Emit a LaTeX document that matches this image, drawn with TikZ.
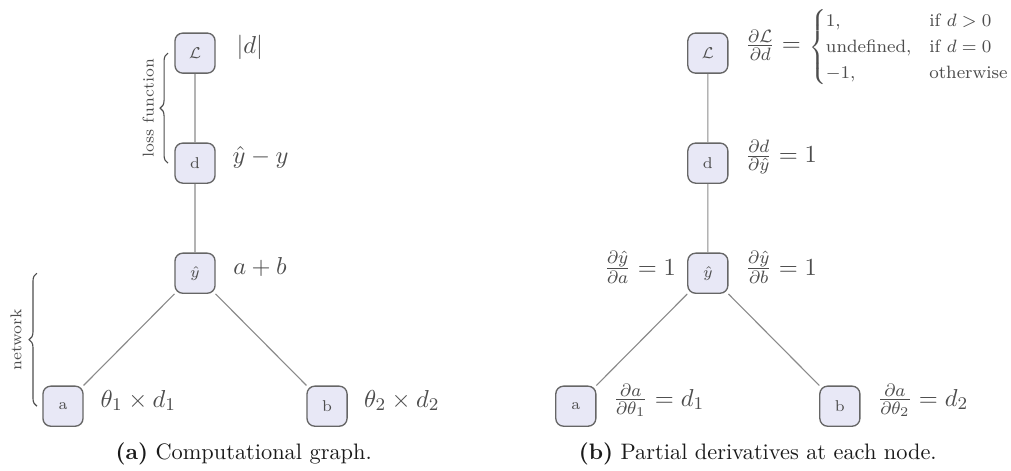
\documentclass[tikz,border=0pt]{standalone}
\usepackage{amsmath,amssymb}
\usepackage{tikz}
\usetikzlibrary{positioning,decorations.pathreplacing}
\definecolor{nodefill}{HTML}{E8E8F6}
\definecolor{nodeline}{HTML}{666666}
\definecolor{edgegray}{HTML}{8A8A8A}
\definecolor{inkgray}{HTML}{4D4D4D}
\definecolor{capink}{HTML}{1A1A1A}
\tikzset{
  var/.style={draw=nodeline, fill=nodefill, rounded corners=3.5pt,
    minimum size=0.63cm, inner sep=0pt, line width=0.6pt,
    text=inkgray, font=\fontsize{7}{8}\selectfont},
  link/.style={line width=0.5pt, color=edgegray},
  expr/.style={inner sep=0pt, text=inkgray,
    font=\fontsize{10.95}{13}\selectfont, yshift=0.09cm},
  side/.style={decorate, decoration={brace, amplitude=3.5pt},
    line width=0.5pt, color=inkgray},
  sidenote/.style={font=\scriptsize, text=inkgray, rotate=90},
  subcap/.style={font=\normalsize, text=capink},
}
\begin{document}
\begin{tikzpicture}[x=1cm,y=1cm]
  \useasboundingbox (0,0) rectangle (15.89,7.39);
  % same graph twice, the right copy sits \dx further on
  \foreach \p/\dx in {l/0, r/8.06} {
    \node[var] (\p L) at (3.065+\dx,6.555) {$\mathcal{L}$};
    \node[var] (\p d) at (3.065+\dx,4.826) {d};
    \node[var] (\p y) at (3.065+\dx,3.096) {$\hat{y}$};
    \node[var] (\p a) at (0.99+\dx,1.006) {a};
    \node[var] (\p b) at (5.14+\dx,1.006) {b};
    \draw[link] (\p L) -- (\p d) -- (\p y) -- (\p a);
    \draw[link] (\p y) -- (\p b);
  }
  % (a) what each node computes
  \node[expr, right=0.32cm of lL] (lLx) {$|d|$};
  \node[expr, right=0.26cm of ld] (ldx) {$\hat{y}-y$};
  \node[expr, right=0.27cm of ly] (lyx) {$a+b$};
  \node[expr, right=0.26cm of la] (lax) {$\theta_1\times d_1$};
  \node[expr, right=0.25cm of lb] (lbx) {$\theta_2\times d_2$};
  \draw[side] ([xshift=-0.425cm]ld.center) -- ([xshift=-0.425cm]lL.center);
  \node[sidenote] (lossnote) at (2.33,5.69) {loss function};
  \draw[side] ([xshift=-0.41cm]la.center) -- ([xshift=-2.485cm]ly.center);
  \node[sidenote] (netnote) at (0.25,2.05) {network};
  % (b) local derivatives
  \node[expr, right=0.26cm of rL] (rLx) {$\frac{\partial\mathcal{L}}{\partial d}=\ ${\fontsize{8}{9.6}\selectfont$\begin{cases}
      1, & \text{if } d>0\\
      \text{undefined}, & \text{if } d=0\\
      -1, & \text{otherwise}
    \end{cases}$}};
  \node[expr, right=0.26cm of rd] (rdx) {$\frac{\partial d}{\partial\hat{y}}=1$};
  \node[expr, left=0.17cm of ry] (ryax) {$\frac{\partial\hat{y}}{\partial a}=1$};
  \node[expr, right=0.26cm of ry] (rybx) {$\frac{\partial\hat{y}}{\partial b}=1$};
  \node[expr, right=0.26cm of ra] (rax) {$\frac{\partial a}{\partial\theta_1}=d_1$};
  \node[expr, right=0.26cm of rb] (rbx) {$\frac{\partial a}{\partial\theta_2}=d_2$};
  % captions
  \node[subcap] (capa) at (3.83,0.25) {\textbf{(a)} Computational graph.};
  \node[subcap] (capb) at (11.91,0.25) {\textbf{(b)} Partial derivatives at each node.};
\end{tikzpicture}
\end{document}
